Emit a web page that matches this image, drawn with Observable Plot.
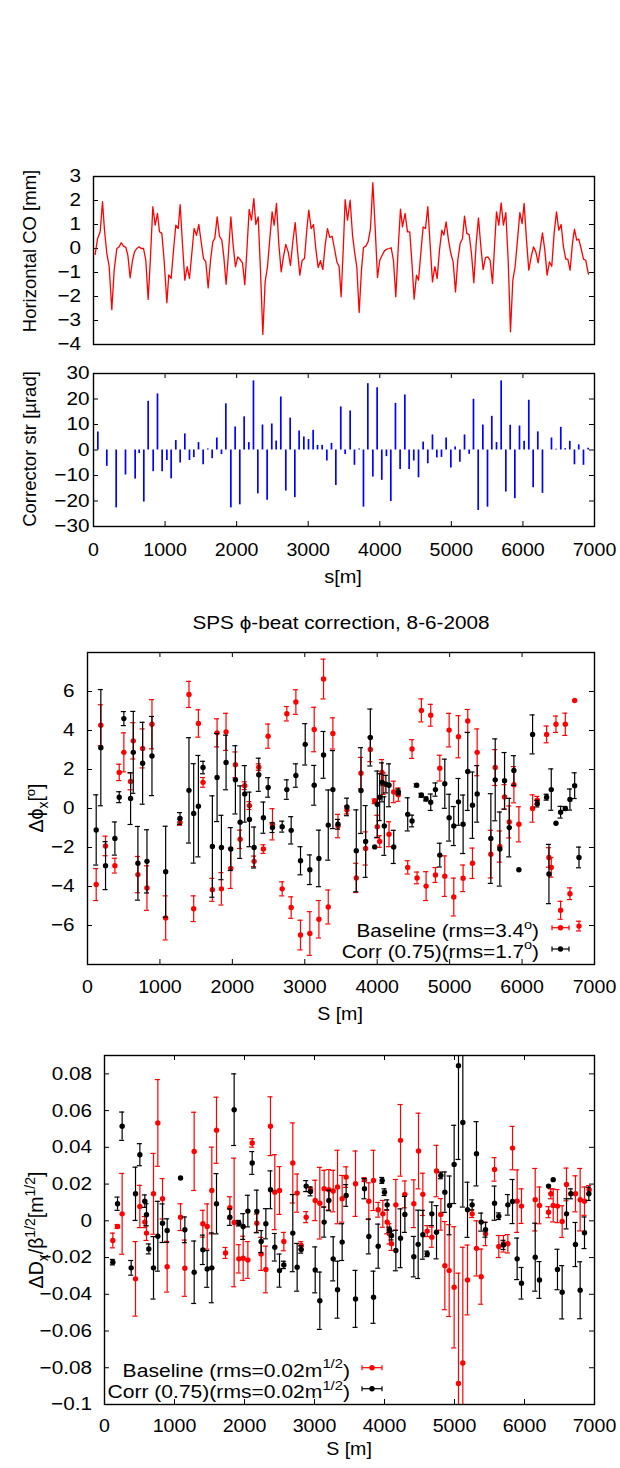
<!DOCTYPE html>
<html><head><meta charset="utf-8">
<script src="https://cdn.jsdelivr.net/npm/d3@7"></script>
<script src="https://cdn.jsdelivr.net/npm/@observablehq/plot@0.6"></script>
<style>
html,body{margin:0;padding:0;background:#fff;}
#root{position:relative;width:620px;height:1468px;overflow:hidden;background:#fff;}
#root svg{position:absolute;left:0;}
</style></head><body><div id="root"></div>
<script>
// ---------- DATA ----------
const xTicks = [0,1000,2000,3000,4000,5000,6000,7000];
const coTicks = [-4,-3,-2,-1,0,1,2,3];
const corTicks = [-30,-20,-10,0,10,20,30];
const phTicks = [-8,-6,-4,-2,0,2,4,6,8];
const phLabels = [-6,-4,-2,0,2,4,6];
const dTicks = [-0.1,-0.08,-0.06,-0.04,-0.02,0,0.02,0.04,0.06,0.08];

// Horizontal closed orbit [mm]
const coS = [23,56,93,126,154,186,219,256,289,326,359,387,419,452,480,512,545,573,605,638,666,699,731,764,792,829,862,894,922,955,987,1025,1052,1085,1118,1150,1183,1211,1243,1276,1309,1341,1374,1406,1439,1472,1504,1537,1569,1602,1635,1667,1695,1728,1760,1793,1821,1853,1886,1919,1951,1984,2016,2049,2082,2114,2142,2175,2207,2240,2268,2301,2333,2366,2398,2431,2464,2496,2524,2557,2589,2622,2654,2687,2720,2752,2785,2818,2850,2883,2915,2948,2980,3008,3041,3074,3106,3139,3171,3204,3237,3269,3302,3334,3367,3400,3432,
 3460,3493,3516,3549,3586,3619,3651,3679,3712,3744,3772,3805,3837,3870,3903,3935,3968,4000,4033,4065,4098,4131,4159,4191,4224,4256,4289,4317,4354,4387,4419,4447,4480,4513,4541,4573,4606,4638,4671,4704,4736,4769,4802,4834,4867,4895,4927,4960,4993,5025,5058,5090,5123,5156,5184,5216,5249,5281,5314,5347,5379,5412,5444,5477,5510,5542,5575,5603,5631,5663,5696,5728,5761,5794,5826,5859,5891,5924,5957,5989,6017,6050,6082,6115,6148,6180,6213,6245,6273,6306,6338,6371,6403,6436,6469,6501,6534,6566,6599,6627,6659,6692,6720,6752,6780,6813,6846,6878,6915];
const coV = [-0.25,0.4,0.7,1.95,0.75,-0.2,-0.75,-2.55,-0.9,0,0.07,0.24,0.1,0.05,-0.28,-1.22,-0.5,-0.14,0,0.07,0,0,-0.5,-2.12,-0.6,1.74,0.97,1.46,0.7,0.63,-0.5,-2.26,-1.1,-1.25,-0.07,0.97,0.83,1.83,0.2,-1.32,-0.76,-1.25,-0.2,0.83,0.55,1.0,0.28,-0.42,-0.55,-1.64,-0.5,0.28,0.42,1.32,0.51,0.35,-0.35,-1.49,-0.2,1.32,0.14,-0.76,-0.35,-0.46,-0.6,-1.51,-0.14,1.63,1.18,2.08,1.0,1.32,-0.9,-3.58,-1.39,-0.76,0.42,1.53,0.97,1.88,0.2,-0.97,-0.35,0.17,-0.14,-0.7,0.28,1.08,-0.07,-1.11,-0.5,-0.42,0.76,1.6,0.83,1.0,0,-0.79,-0.51,-0.88,0.14,0.83,0.46,0.51,0,-0.55,-0.76,
 -2.01,0.21,2.04,1.18,2.01,0.56,-0.21,-0.76,-2.67,-0.9,0.04,0.1,0.28,0.83,2.74,0.9,-1.21,-0.49,-0.28,-0.1,-0.03,0,0.03,-0.49,-2.01,-0.07,1.64,0.9,1.46,0.69,0.69,-0.49,-2.11,-1.11,-1.32,-0.21,0.9,0.83,1.74,0.14,-1.39,-0.76,-1.25,-0.07,0.76,0.56,1.11,0.35,-0.21,-0.56,-1.81,-0.49,0.21,0.42,1.35,0.63,0.58,-0.21,-1.43,0.21,1.28,0.07,-0.88,-0.38,-0.35,-0.49,-1.46,0.07,1.53,0.97,1.9,0.97,1.49,-0.49,-3.47,-1.32,-0.76,0.35,1.49,1.04,1.88,0.35,-0.9,-0.35,0.07,-0.14,-0.6,0.07,0.65,-0.07,-1.11,-0.56,-0.74,0.63,1.53,0.76,1.0,0.07,-0.44,-0.44,-0.9,0.21,0.81,0.35,0.39,0,-0.44,-0.49,-1.07];

// Corrector strengths [urad]
const corS = [61,186,317,447,582,638,703,764,834,894,959,1025,1085,1150,1211,1276,1341,1402,1467,1532,1597,1658,1723,1788,1849,1919,1979,2044,2105,2170,2235,2296,2361,2426,2491,2552,2617,2687,2748,2813,2873,2939,3004,3069,3130,3195,3260,3325,3386,
 3455,3516,3586,3646,3712,3772,3833,3903,3963,4028,4093,4154,4219,4284,4350,4410,4475,4541,4606,4671,4736,4797,4862,4927,4993,5053,5119,5184,5249,5309,5375,5440,5505,5565,5631,5696,5761,5822,5887,5952,6017,6082,6143,6208,6273,6399,6464,6529,6590,6655,6720,6780,6846,6911];
const corV = [7.1,-6.4,-22.7,-9.8,-11.4,-1.4,-20.4,19.1,-8.5,22,-8.5,-4.1,-11.3,3.7,-5.1,6.3,-4.1,-3.0,2.9,-5.8,0.4,-3.4,4.7,-1.8,18.1,-22.7,9.0,-21.5,13,2.9,27.1,-17.2,9.8,-19.7,10.2,3.5,20.8,-16.1,12.5,-18.7,7.5,5.1,4.1,7.7,1.8,1.8,-4.3,2.6,-13.9,
 16.9,-1.8,15.3,-6.0,0.4,-22.4,26,-10.6,24.4,-11.9,-2.6,-20.2,18.3,-7.6,21.6,-7.6,-4.3,-10.9,3.1,-5.4,5.9,-3.1,-2.9,4.7,-7.1,1.2,-4.8,5.9,-1.7,19.9,-23.7,9.8,-22.4,13.2,2.9,27.1,-16.5,9.7,-19.1,9.4,3.4,19.5,-14.8,7.1,-17.0,4.7,0.3,8.9,0.5,3.4,-5.8,2.0,-6.0,0.7];

// Phase beat, baseline (red)
const phBS = [120,184,249,378,438,502,595,632,696,761,821,890,1079,1277,1401,1466,1531,1595,1724,1789,1849,1913,1978,2042,2107,2171,2236,2300,2365,2429,2494,2554,2688,2752,2812,2877,2941,3070,3130,3195,3259,3324,3388,3458,
 3582,3711,3776,3840,3905,3965,4001,4034,4066,4089,4163,4228,4292,4421,4481,4550,4610,4675,4739,4804,4864,4933,4993,5057,5122,5186,5250,5315,5380,5569,5629,5693,5758,5823,5887,5956,6145,6210,6339,6371,6403,6468,6532,6597,6661,6726,6786];
const phBV = [-3.9,4.27,-1.92,-2.93,1.85,2.88,1.39,3.47,-3.39,3.08,-4.08,4.32,-5.61,-0.71,5.85,-5.14,4.36,1.34,-4.17,3.88,-4.12,3.93,-3.07,2.24,-1.58,1.17,0.15,-2.71,2.12,-2.08,3.71,-0.81,-4.12,4.86,-5.08,5.46,-6.49,-6.41,4.05,-5.68,6.64,-5.05,3.85,-0.9,
 -0.08,-3.56,1.81,-2.05,3.03,0.37,-0.93,-1.69,1.85,1.27,-1.32,0.85,0.71,-3.02,3.05,-3.56,5.03,-3.98,4.78,-3.41,2.07,-3.47,4.02,-4.54,3.68,-3.58,4.49,-2.81,2.88,-2.34,2.1,-1.95,0.59,-0.69,1.22,-0.81,0,0.42,3.8,-2.51,-3.02,4.32,-5.22,4.32,-4.37,5.54,-6.03];
const phBE = [0.82,1.05,0.5,0.38,0.42,1.0,0.43,0.93,0.93,1.0,1.14,1.26,1.13,0.15,0.67,0.66,0.7,0.25,0.59,0.72,0.83,0.95,1.03,0.66,0.47,0.2,0.2,0.27,0.17,0.22,0.62,0.8,0.36,0.37,0.55,0.63,0.76,1.12,1.14,0.96,1.02,0.87,0.8,0.6,
 0.2,0.75,0.81,0.85,0.63,0.12,0.58,0.3,0.66,0.55,0.64,0.55,0.34,0.34,0.48,0.3,0.59,0.74,0.56,0.38,0.66,1.04,0.86,0.97,1.08,0.68,0.59,0.78,1.2,1.22,0.92,0.8,0.63,0.82,0.93,0.9,0.7,0.2,0.43,0.5,0.5,0.42,0.46,0.57,0.3,0,0.25];

// Phase beat, corrected (black)
const phCS = [120,184,249,378,438,502,595,632,696,761,821,890,1079,1277,1401,1466,1531,1595,1724,1789,1849,1913,1978,2042,2107,2171,2236,2300,2365,2429,2494,2554,2688,2752,2812,2877,2941,3006,3070,3130,3195,3259,3324,3388,3458,
 3582,3711,3776,3840,3905,3965,4001,4034,4066,4098,4120,4163,4228,4292,4421,4481,4545,4610,4675,4739,4804,4864,4933,4993,5057,5122,5186,5250,5315,5380,5569,5629,5693,5758,5823,5887,5956,6145,6210,6339,6371,6403,6468,6532,6597,6661,6726,6786];
const phCV = [-1.1,3.12,-2.93,-1.54,0.58,4.61,0.51,2.88,-2.81,2.32,-2.71,2.69,-3.24,-0.51,0.93,-0.25,0.12,2.1,-1.95,1.59,-2.0,2.36,-2.08,1.47,-0.7,0.75,-0.56,-2.0,1.73,-0.47,1.08,-0.98,-0.93,0.97,-1.12,1.69,-2.68,3.29,-3.14,1.19,-2.56,2.75,-0.85,0.97,-0.81,
 0.08,-2.17,0.92,-1.69,3.64,-1.97,0.22,0.58,1.34,-0.9,1.25,1.19,-1.97,0.85,-0.3,-0.64,1.19,0.68,0.49,0.32,0.97,-2.39,1.27,-0.47,-0.9,0.34,-0.81,1.9,0.17,0.75,-1.54,1.47,-2.08,1.42,-0.98,1.95,-3.14,3.8,0.25,0.58,-3.36,0.97,-0.76,-0.19,0,0.46,1.17,-2.51];
const phCE = [1.8,2.98,1.23,0.85,0.28,0.36,1.33,2.1,1.89,2.1,1.62,2.03,2.33,0.3,2.7,2.55,2.6,0.32,2.6,2.26,1.65,1.4,1.1,1.75,1.86,1.45,1.4,1.05,0.85,0.8,0.5,0.25,0.28,0.5,0.7,0.6,0.72,1.06,0.76,1.02,1.45,1.2,1.8,2.0,0.25,
 0.45,2.1,2.2,1.84,1.46,0,1.7,1.2,1.0,1.5,0.45,1.1,0.85,0.15,0.85,0.3,0.08,0.1,0.1,0.42,0.34,0.61,1.26,1.2,1.0,1.2,1.5,2.0,1.7,1.45,2.3,2.1,1.9,1.45,1.5,0.76,0,1.0,0.17,0.15,1.52,1.06,0,0.3,0.1,0.54,0.66,0.53];

// Dispersion beat, baseline (red)
const dBS = [119,186,252,443,505,576,600,700,762,829,895,1086,1148,1281,1405,1467,1533,1600,1729,1791,1852,1919,1981,2048,2110,2176,2238,2305,2371,2433,2500,2562,2690,2752,2810,2881,2943,3010,3076,3138,3205,3267,3329,
 3395,3452,3586,3714,3776,3843,3910,3976,4038,4071,4100,4162,4229,4291,4419,4486,4548,4610,4676,4743,4805,4862,4924,4995,5057,5119,5186,5252,5314,5381,5443,5572,5633,5700,5762,5829,5895,5957,6153,6214,6343,6376,6410,6471,6538,6600,6728,6795,6857,6924];
const dBV = [-0.0107,-0.0031,0.0038,-0.0316,0.0078,-0.0007,-0.0067,0.0147,0.0533,0.012,-0.025,0.002,-0.0258,0.0378,-0.0016,-0.0031,0.0165,0.0493,-0.0175,0.0071,-0.0009,-0.0207,-0.0204,-0.0213,0.0424,-0.0013,-0.018,-0.0265,0.0515,0.0156,0.0165,-0.0113,0.0315,0.0151,-0.0134,0.002,0.0169,0.0111,0.0096,0.0175,0.0169,0.0162,0.0184,
 0.012,0.0238,0.0202,0.0224,0.0107,0.022,0.006,0.0038,-0.0007,-0.0071,-0.0125,0.0087,0.0438,0.0144,0.0093,0.038,0.0144,-0.0056,-0.0089,0.0271,0.0035,-0.0244,-0.0271,-0.0362,-0.0885,-0.0774,-0.0322,0.0038,-0.015,-0.0304,-0.0071,0.028,-0.014,-0.0125,-0.0125,0.0396,0.0107,0.008,0.0115,0.0084,0.0047,0.0147,0.0084,0.008,-0.0004,0.0198,0.0147,0.0115,0.0107,0.0169];
const dBE = [0.004,0.001,0.022,0.0203,0.0115,0.003,0.004,0.022,0.0236,0.011,0.0138,0.0073,0.0153,0.0213,0.0073,0.0123,0.0236,0.018,0.003,0.006,0.035,0.0077,0.012,0.01,0.0023,0.005,0.009,0.0127,0.016,0.0204,0.013,0.005,0.0218,0.0104,0.002,0.003,0.0015,0.011,0.0195,0.01,0.011,0.0113,0.02,
 0.0127,0.0056,0.0178,0.001,0.01,0.0164,0.004,0.0073,0.0064,0.0055,0.0036,0.0138,0.0195,0.0073,0.013,0.0206,0.0115,0.003,0.0055,0.014,0.0086,0.024,0.025,0.033,0.06,0.063,0.019,0.002,0.015,0.015,0.0064,0.0064,0.006,0.0045,0.005,0.0118,0.017,0.0094,0.017,0.01,0.003,0.0027,0.009,0.009,0.0086,0.0089,0.0098,0.017,0.0077,0.0023];

// Dispersion beat, corrected (black)
const dCS = [119,186,252,381,443,505,576,600,633,700,762,829,895,1086,1148,1281,1405,1467,1533,1600,1791,1852,1919,1981,2048,2110,2176,2238,2305,2371,2433,2500,2562,2690,2752,2810,2881,2943,3010,3076,3138,3205,3267,3329,
 3395,3452,3586,3714,3776,3843,3910,3967,4000,4038,4071,4100,4162,4229,4291,4419,4481,4548,4610,4676,4743,4805,4862,4929,4995,5057,5119,5186,5252,5314,5381,5443,5572,5633,5700,5762,5829,5895,5957,6153,6214,6343,6410,6471,6538,6600,6662,6728,6795,6857,6919];
const dCV = [-0.0225,0.0093,0.0515,-0.0256,0.0147,0.036,0.0107,0.0033,-0.0153,-0.0256,-0.0084,-0.0013,-0.0053,0.0233,-0.0049,-0.028,-0.0158,-0.0262,-0.0256,0.0093,0.002,0.0605,-0.0013,-0.0031,0.0053,0.0315,0.0051,-0.0113,-0.0016,0.0169,-0.0144,-0.0271,-0.024,-0.0067,-0.0253,-0.0156,0.0189,0.016,-0.0267,-0.0435,-0.0007,0.0111,-0.0207,-0.0375,
 -0.0116,0.0138,-0.0425,0.0175,-0.0085,-0.0416,-0.0138,0.022,0.0156,0.0087,-0.0049,-0.008,-0.0162,-0.0095,0.0035,-0.0195,-0.0128,-0.0076,-0.018,0.0038,-0.0062,0.0247,0.0156,0.0084,0.0307,0.0844,0.0535,0.006,0.0087,0.0365,-0.0007,-0.0049,0.0096,0.0025,-0.0131,0.0087,0.0105,-0.0207,-0.034,-0.0198,-0.0322,0.0189,0.0224,-0.0265,-0.0389,0.0038,0.0147,-0.0129,-0.0378,-0.0065,0.0147];
const dCE = [0.0015,0.0036,0.0077,0.004,0.0145,0.006,0.0034,0.006,0.0027,0.017,0.019,0.0105,0.0064,0,0.007,0.017,0.008,0.01,0.019,0.0164,0.0045,0.0195,0.0015,0.007,0.0086,0.0062,0.0116,0.006,0.0082,0.0103,0.0075,0.009,0.002,0.021,0.013,0.002,0.003,0.0024,0.0125,0.0156,0.0082,0.0056,0.012,0.0155,
 0.01,0.0059,0.0155,0.0055,0.0095,0.0142,0.012,0.0016,0.0018,0.0027,0.0015,0.0024,0.011,0.016,0.0098,0.011,0.0186,0.0133,0.0015,0.0064,0.0145,0.0018,0.011,0.016,0.0213,0.051,0.046,0.015,0.0027,0.0175,0.0049,0.004,0.0093,0.0018,0.0025,0.0056,0.012,0.0113,0.0086,0.0185,0.01,0,0,0.011,0.0145,0.0082,0.0027,0.012,0.0155,0.0086,0.0036];

// ---------- BUILD ----------
const FONT = '"Liberation Sans", Arial, Helvetica, sans-serif';
const FS = 18.5;
const RED = "#ff0000", BLUE = "#0000ff";
const root = document.getElementById("root");
const fmtY = d => d < 0 ? "\u2212" + String(-d) : String(d);

function zip2(S, V) { const n = Math.min(S.length, V.length); return d3.range(n).map(i => ({s: S[i], v: V[i]})); }
function zip3(S, V, E) { const n = Math.min(S.length, V.length, E.length); return d3.range(n).map(i => ({s: S[i], v: V[i], e: E[i]})); }

function frameTicks(xt, yt, fw, fh, L, withX) {
  const m = [];
  if (withX) {
    m.push(Plot.tickX(xt, {x: d => d, insetTop: fh - L, stroke: "#000", strokeWidth: 1}));
    m.push(Plot.tickX(xt, {x: d => d, insetBottom: fh - L, stroke: "#000", strokeWidth: 1}));
  }
  m.push(Plot.tickY(yt, {y: d => d, insetRight: fw - L, stroke: "#000", strokeWidth: 1}));
  m.push(Plot.tickY(yt, {y: d => d, insetLeft: fw - L, stroke: "#000", strokeWidth: 1}));
  return m;
}
function errMarks(rows, color, cap) {
  const w = rows.filter(d => d.e > 0);
  return [
    Plot.ruleX(w, {x: "s", y1: d => d.v - d.e, y2: d => d.v + d.e, stroke: color, strokeWidth: 1.2, clip: true}),
    Plot.ruleY(w, {y: d => d.v + d.e, x1: d => d.s - cap, x2: d => d.s + cap, stroke: color, strokeWidth: 1.2, clip: true}),
    Plot.ruleY(w, {y: d => d.v - d.e, x1: d => d.s - cap, x2: d => d.s + cap, stroke: color, strokeWidth: 1.2, clip: true}),
    Plot.dot(rows, {x: "s", y: "v", r: 2.7, fill: color, stroke: "none", clip: true})
  ];
}
// widen horizontal tick label glyphs (the reference text is wider than tall)
function stretch(svg, sel, k) {
  svg.querySelectorAll(sel).forEach(t => {
    const tr = t.getAttribute("transform");
    if (tr) t.setAttribute("transform", tr + ` scale(${k},1)`);
    else {
      const x = +(t.getAttribute("x") || 0), y = +(t.getAttribute("y") || 0);
      t.removeAttribute("x"); t.removeAttribute("y");
      t.setAttribute("transform", `translate(${x},${y}) scale(${k},1)`);
    }
  });
}
function mkPlot(o) {
  const svg = Plot.plot({
    width: 620, height: o.h, marginTop: o.mt, marginBottom: o.mb, marginLeft: o.ml, marginRight: o.mr,
    x: Object.assign({domain: [0, 7000]}, o.xAxisNull ? {axis: null} : {}),
    y: {domain: o.yd},
    style: {fontFamily: FONT, fontSize: FS + "px", background: "transparent", color: "#000", overflow: "visible"},
    marks: o.marks
  });
  svg.style.top = o.top + "px";
  root.appendChild(svg);
  stretch(svg, 'g[aria-label="y-axis tick label"] text', 1.12);
  stretch(svg, 'g[aria-label="x-axis tick label"] text', 1.06);
  return svg;
}

// Panel 1: closed orbit
{
  const top = 150, h = 210, mt = 26, mb = 16, ml = 93, mr = 26;
  const fw = 620 - ml - mr, fh = h - mt - mb;
  mkPlot({top, h, mt, mb, ml, mr, yd: [-4, 3], xAxisNull: true, marks: [
    Plot.axisY(coTicks, {tickSize: 0, tickPadding: 12.5, tickFormat: fmtY, label: null, fontSize: FS}),
    ...frameTicks(xTicks, coTicks, fw, fh, 5, false),
    Plot.line(zip2(coS, coV), {x: "s", y: "v", stroke: RED, strokeWidth: 1.3}),
    Plot.frame({stroke: "#000", strokeWidth: 1.4})
  ]});
}
// Panel 2: correctors
{
  const top = 360, h = 205, mt = 13, mb = 39, ml = 93, mr = 26;
  const fw = 620 - ml - mr, fh = h - mt - mb;
  mkPlot({top, h, mt, mb, ml, mr, yd: [-30, 30], marks: [
    Plot.axisY(corTicks, {tickSize: 0, tickPadding: 4, tickFormat: fmtY, label: null, fontSize: FS}),
    Plot.axisX(xTicks, {tickSize: 0, tickPadding: 16, tickFormat: d => String(d), label: null, fontSize: FS}),
    ...frameTicks(xTicks, corTicks, fw, fh, 5, true),
    Plot.ruleX(zip2(corS, corV), {x: "s", y1: 0, y2: "v", stroke: BLUE, strokeWidth: 1.7}),
    Plot.frame({stroke: "#000", strokeWidth: 1.4})
  ]});
}
// Panel 3: phase beat
{
  const top = 640, h = 360, mt = 12, mb = 36, ml = 87, mr = 26;
  const fw = 620 - ml - mr, fh = h - mt - mb;
  mkPlot({top, h, mt, mb, ml, mr, yd: [-8, 8], marks: [
    Plot.axisY(phLabels, {tickSize: 0, tickPadding: 13, tickFormat: fmtY, label: null, fontSize: FS}),
    Plot.axisX(xTicks, {tickSize: 0, tickPadding: 15.5, tickFormat: d => String(d), label: null, fontSize: FS}),
    ...frameTicks(xTicks, phTicks, fw, fh, 5, true),
    ...errMarks(zip3(phBS, phBV, phBE), RED, 35),
    ...errMarks(zip3(phCS, phCV, phCE), "#000", 35),
    Plot.frame({stroke: "#000", strokeWidth: 1.4})
  ]});
}
// Panel 4: dispersion beat
{
  const top = 1045, h = 423, mt = 10, mb = 64, ml = 104, mr = 26;
  const fw = 620 - ml - mr, fh = h - mt - mb;
  mkPlot({top, h, mt, mb, ml, mr, yd: [-0.1, 0.09], marks: [
    Plot.axisY(dTicks, {tickSize: 0, tickPadding: 12.5, tickFormat: fmtY, label: null, fontSize: FS}),
    Plot.axisX(xTicks, {tickSize: 0, tickPadding: 14.5, tickFormat: d => String(d), label: null, fontSize: FS}),
    ...frameTicks(xTicks, dTicks, fw, fh, 5, true),
    ...errMarks(zip3(dBS, dBV, dBE), RED, 36),
    ...errMarks(zip3(dCS, dCV, dCE), "#000", 36),
    Plot.frame({stroke: "#000", strokeWidth: 1.4})
  ]});
}

// ---------- TEXT OVERLAY ----------
const ov = d3.select(root).append("svg").attr("width", 620).attr("height", 1468)
  .style("top", "0px").style("pointer-events", "none")
  .attr("font-family", FONT).attr("font-size", FS).attr("fill", "#000");

function rich(x, y, segs, anchor = "middle", rot = 0, size = FS, sx = 1) {
  const t = ov.append("text").attr("text-anchor", anchor).attr("font-size", size)
    .attr("transform", `translate(${x},${y}) rotate(${rot}) scale(${sx},1)`);
  let cur = 0;
  for (const [s, shift, sz] of segs) {
    const sp = t.append("tspan").text(s);
    if (shift - cur) sp.attr("dy", shift - cur);
    if (sz) sp.attr("font-size", sz);
    cur = shift;
  }
  return t;
}
function legendGlyph(x1, x2, y, color) {
  ov.append("line").attr("x1", x1).attr("x2", x2).attr("y1", y).attr("y2", y).attr("stroke", color).attr("stroke-width", 1.2);
  for (const x of [x1, x2]) ov.append("line").attr("x1", x).attr("x2", x).attr("y1", y - 2.5).attr("y2", y + 2.5).attr("stroke", color).attr("stroke-width", 1.2);
  ov.append("circle").attr("cx", (x1 + x2) / 2).attr("cy", y).attr("r", 2.7).attr("fill", color);
}

// axis titles
rich(36, 251, [["Horizontal CO [mm]", 0]], "middle", -90);
rich(36, 449, [["Corrector str [µrad]", 0]], "middle", -90);
rich(343, 583, [["s[m]", 0]], "middle", 0, FS, 1.08);
rich(341, 629, [["SPS ϕ-beat correction, 8-6-2008", 0]], "middle", 0, FS, 1.12);
rich(43, 808, [["Δϕ", 0], ["x", 5, 14], ["[", 0, 19.5], ["o", -8, 13], ["]", 0, 19.5]], "middle", -90, 19.5);
rich(340, 1019.5, [["S [m]", 0]], "middle", 0, FS, 1.06);
rich(43, 1230, [["ΔD", 0], ["x", 5, 14], ["/β", 0, 19.5], ["1/2", -8, 14], ["[m", 0, 19.5], ["1/2", -8, 14], ["]", 0, 19.5]], "middle", -90, 19.5);
rich(349, 1455, [["S [m]", 0]], "middle", 0, FS, 1.06);

// legends
rich(539, 937, [["Baseline (rms=3.4", 0], ["o", -8.5, 13], [")", 0, FS]], "end", 0, FS, 1.12);
rich(539, 957.5, [["Corr (0.75)(rms=1.7", 0], ["o", -8.5, 13], [")", 0, FS]], "end", 0, FS, 1.12);
legendGlyph(552, 569, 927.7, RED);
legendGlyph(552, 569, 949, "#000");

rich(350, 1376.5, [["Baseline (rms=0.02m", 0], ["1/2", -8.5, 13], [")", 0, FS]], "end", 0, FS, 1.14);
rich(350, 1398, [["Corr (0.75)(rms=0.02m", 0], ["1/2", -8.5, 13], [")", 0, FS]], "end", 0, FS, 1.14);
legendGlyph(362, 382, 1367.7, RED);
legendGlyph(362, 382, 1388.7, "#000");
</script></body></html>
